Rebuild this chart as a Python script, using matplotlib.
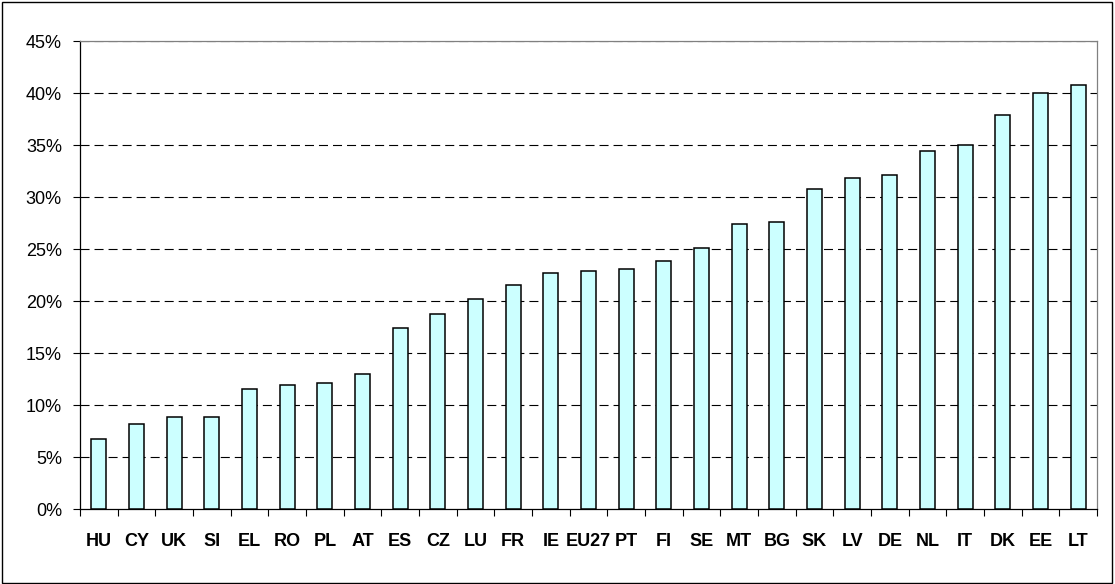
import matplotlib
matplotlib.use("Agg")
import matplotlib.pyplot as plt
import numpy as np
from matplotlib.patches import Rectangle
from matplotlib.ticker import FixedLocator, FuncFormatter

countries = ["HU", "CY", "UK", "SI", "EL", "RO", "PL", "AT", "ES", "CZ", "LU", "FR", "IE",
             "EU27", "PT", "FI", "SE", "MT", "BG", "SK", "LV", "DE", "NL", "IT", "DK", "EE", "LT"]
values = [6.8, 8.2, 8.9, 8.9, 11.6, 11.9, 12.1, 13.0, 17.4, 18.8, 20.2, 21.6, 22.7,
          22.9, 23.1, 23.9, 25.1, 27.4, 27.6, 30.8, 31.8, 32.1, 34.4, 35.0, 37.9, 40.0, 40.8]
yticks = [0, 5, 10, 15, 20, 25, 30, 35, 40, 45]

plt.rcParams['font.family'] = ['Liberation Sans', 'DejaVu Sans']
plt.rcParams['lines.scale_dashes'] = False

W, H = 1115, 584
fig = plt.figure(figsize=(W / 100, H / 100), dpi=100)
ax = fig.add_axes([80 / W, (H - 509.3) / H, (1097 - 80) / W, (509.3 - 41) / H])

x = np.arange(len(countries))
ax.bar(x, values, width=0.4, color='#CCFFFF', edgecolor='black', linewidth=1.1, zorder=3)

ax.set_xlim(-0.5, len(countries) - 0.5)
ax.set_ylim(0, 45)

ax.yaxis.set_major_locator(FixedLocator(yticks))
ax.yaxis.set_major_formatter(FuncFormatter(lambda v, p: f"{v:.0f}%"))
for yv in yticks[1:]:
    ax.axhline(yv, color='black', linewidth=0.8, linestyle=(0, (6.5, 3.6)), zorder=1)

ax.set_xticks(x)
ax.set_xticklabels(countries, fontweight='bold', fontsize=13)
ax.set_xticks(np.arange(-0.5, len(countries), 1.0), minor=True)
ax.tick_params(axis='x', which='major', length=0, pad=17)
ax.tick_params(axis='x', which='minor', length=5, width=0.8, direction='out', color='black')
ax.tick_params(axis='y', which='major', length=5, width=0.8, direction='out', labelsize=13, pad=8)

for s in ['left', 'bottom']:
    ax.spines[s].set_color('black')
    ax.spines[s].set_linewidth(0.9)
for s in ['top', 'right']:
    ax.spines[s].set_color('#808080')
    ax.spines[s].set_linewidth(0.9)

fig.patches.append(Rectangle((1.5 / W, 1.5 / H), (W - 4.5) / W, (H - 3.5) / H,
                             transform=fig.transFigure, fill=False, edgecolor='black',
                             linewidth=1.0))

fig.savefig("out.png", dpi=100)
